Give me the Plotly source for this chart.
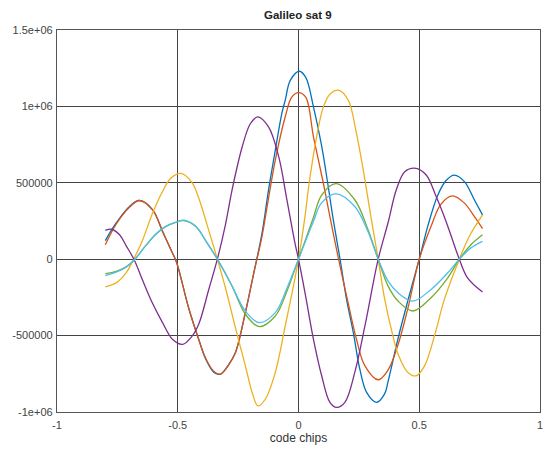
import plotly.graph_objects as go

# code chips offsets and correlation values
x_blue = [-0.80, -0.755, -0.70, -0.659, -0.604, -0.563, -0.522, -0.505, -0.453, -0.412, -0.384, -0.35, -0.323, -0.288,
          -0.261, -0.22, -0.185, -0.151, -0.124, -0.096, -0.069, -0.055, -0.034, 0.003, 0.03, 0.062, 0.096, 0.121,
          0.144, 0.172, 0.199, 0.227, 0.254, 0.282, 0.323, 0.357, 0.371, 0.412, 0.453, 0.50, 0.536, 0.577, 0.611,
          0.645, 0.687, 0.728, 0.762]
v_blue = [122e3, 237e3, 345e3, 384e3, 323e3, 182e3, 41e3, -20e3, -329e3, -530e3, -654e3, -741e3, -752e3, -687e3,
          -611e3, -350e3, -89e3, 171e3, 454e3, 714e3, 954e3, 1040e3, 1170e3, 1230e3, 1190e3, 997e3, 740e3, 497e3,
          258e3, 0, -263e3, -480e3, -720e3, -872e3, -937e3, -880e3, -800e3, -520e3, -270e3, 0, 220e3, 420e3, 515e3,
          550e3, 508e3, 389e3, 290e3]

x_red = [-0.80, -0.755, -0.70, -0.659, -0.604, -0.563, -0.522, -0.505, -0.453, -0.412, -0.384, -0.35, -0.323, -0.288,
         -0.261, -0.22, -0.185, -0.151, -0.124, -0.096, -0.055, -0.028, 0.0, 0.03, 0.062, 0.103, 0.135, 0.166, 0.206,
         0.24, 0.275, 0.33, 0.371, 0.412, 0.453, 0.50, 0.549, 0.59, 0.638, 0.687, 0.728, 0.762]
v_red = [95e3, 230e3, 340e3, 384e3, 323e3, 182e3, 41e3, -20e3, -329e3, -530e3, -650e3, -735e3, -752e3, -690e3,
         -611e3, -350e3, -89e3, 150e3, 400e3, 649e3, 932e3, 1060e3, 1090e3, 1060e3, 801e3, 497e3, 240e3, 0, -290e3,
         -524e3, -698e3, -789e3, -725e3, -560e3, -320e3, 0, 215e3, 360e3, 414e3, 367e3, 280e3, 200e3]

x_yellow = [-0.80, -0.755, -0.714, -0.687, -0.645, -0.604, -0.563, -0.529, -0.487, -0.44, -0.412, -0.371, -0.336,
            -0.302, -0.261, -0.22, -0.192, -0.168, -0.137, -0.096, -0.055, -0.021, 0.0, 0.025, 0.044, 0.075, 0.103,
            0.13, 0.165, 0.206, 0.24, 0.275, 0.302, 0.33, 0.357, 0.391, 0.412, 0.453, 0.487, 0.522, 0.563, 0.604,
            0.666, 0.707, 0.762]
v_yellow = [-181e3, -155e3, -89e3, -14e3, 128e3, 302e3, 443e3, 530e3, 562e3, 500e3, 395e3, 185e3, 0,
            -190e3, -450e3, -698e3, -872e3, -960e3, -915e3, -741e3, -437e3, -176e3, 0, 258e3, 497e3, 801e3, 997e3,
            1080e3, 1106e3, 1040e3, 823e3, 519e3, 258e3, 0, -263e3, -502e3, -620e3, -741e3, -763e3, -698e3, -502e3,
            -263e3, 0, 149e3, 290e3]

x_purple = [-0.80, -0.775, -0.741, -0.714, -0.68, -0.645, -0.604, -0.563, -0.522, -0.48, -0.44, -0.412, -0.371,
            -0.336, -0.302, -0.275, -0.233, -0.199, -0.168, -0.124, -0.082, -0.048, -0.014, 0.0, 0.027, 0.062, 0.096,
            0.13, 0.158, 0.192, 0.233, 0.275, 0.33, 0.371, 0.405, 0.44, 0.487, 0.529, 0.57, 0.611, 0.666, 0.70, 0.762]
v_purple = [188e3, 196e3, 160e3, 89e3, -5e3, -140e3, -290e3, -415e3, -524e3, -557e3, -502e3, -420e3, -195e3,
            0, 230e3, 454e3, 736e3, 888e3, 932e3, 866e3, 671e3, 389e3, 100e3, 0, -220e3, -524e3, -763e3,
            -937e3, -970e3, -937e3, -741e3, -437e3, 0, 240e3, 454e3, 573e3, 595e3, 551e3, 410e3, 247e3, 0, -122e3, -215e3]

x_green = [-0.80, -0.755, -0.714, -0.68, -0.632, -0.59, -0.549, -0.506, -0.474, -0.426, -0.38, -0.336, -0.275,
           -0.22, -0.163, -0.096, -0.048, 0.0, 0.06, 0.096, 0.155, 0.233, 0.288, 0.33, 0.371, 0.412, 0.474, 0.549,
           0.618, 0.666, 0.714, 0.762]
v_green = [-94e3, -79e3, -50e3, -5e3, 90e3, 165e3, 215e3, 243e3, 252e3, 215e3, 110e3, 0, -176e3,
           -360e3, -441e3, -372e3, -210e3, 0, 265e3, 420e3, 495e3, 389e3, 193e3, 0, -176e3, -274e3, -339e3, -252e3,
           -122e3, 0, 95e3, 160e3]

x_cyan = [-0.80, -0.755, -0.714, -0.68, -0.632, -0.59, -0.549, -0.506, -0.474, -0.426, -0.38, -0.336, -0.275,
          -0.22, -0.163, -0.096, -0.048, 0.0, 0.06, 0.096, 0.155, 0.233, 0.288, 0.33, 0.371, 0.412, 0.474, 0.549,
          0.618, 0.666, 0.714, 0.762]
v_cyan = [-107e3, -85e3, -52e3, -5e3, 90e3, 165e3, 215e3, 243e3, 255e3, 215e3, 110e3, 0, -176e3,
          -340e3, -415e3, -350e3, -190e3, 0, 240e3, 370e3, 428e3, 345e3, 180e3, 0, -144e3, -220e3, -274e3, -198e3,
          -89e3, 0, 74e3, 117e3]

series = [
    (x_blue, v_blue, "#0072BD"),
    (x_red, v_red, "#D95319"),
    (x_yellow, v_yellow, "#EDB120"),
    (x_purple, v_purple, "#7E2F8E"),
    (x_green, v_green, "#77AC30"),
    (x_cyan, v_cyan, "#4DBEEE"),
]

x_ticks = [-1, -0.5, 0, 0.5, 1]
x_tick_labels = ["-1", "-0.5", "0", "0.5", "1"]
y_ticks = [-1e6, -5e5, 0, 5e5, 1e6, 1.5e6]
y_tick_labels = ["-1e+06", "-500000", "0", "500000", "1e+06", "1.5e+06"]

fig = go.Figure()
for xs, vs, col in series:
    fig.add_trace(go.Scatter(x=xs, y=vs, mode="lines",
                             line=dict(color=col, width=1.3, shape="spline", smoothing=1.0),
                             showlegend=False, hoverinfo="skip"))

axis_common = dict(showline=True, mirror=True, linecolor="#555555", linewidth=1.3,
                   showgrid=True, gridcolor="#444444", gridwidth=1.3, zeroline=False,
                   ticks="", tickfont=dict(family="Liberation Sans, Arial", size=11, color="#444444"))

fig.update_layout(
    width=549, height=449,
    margin=dict(l=57, r=6, t=30, b=36),
    paper_bgcolor="white", plot_bgcolor="white",
    title=dict(text="<b>Galileo sat 9</b>", x=0.5425, xanchor="center", y=0.966, yanchor="middle",
               font=dict(family="Liberation Sans, Arial", size=11.5, color="#222222")),
    xaxis=dict(range=[-1, 1], tickvals=x_ticks, ticktext=x_tick_labels, ticklabelstandoff=3,
               title=dict(text="code chips", standoff=3,
                          font=dict(family="Liberation Sans, Arial", size=12, color="#333333")),
               **axis_common),
    yaxis=dict(range=[-1e6, 1.5e6], tickvals=y_ticks, ticktext=y_tick_labels, ticklabelstandoff=1,
               **axis_common),
)

fig.write_html("out.html")
